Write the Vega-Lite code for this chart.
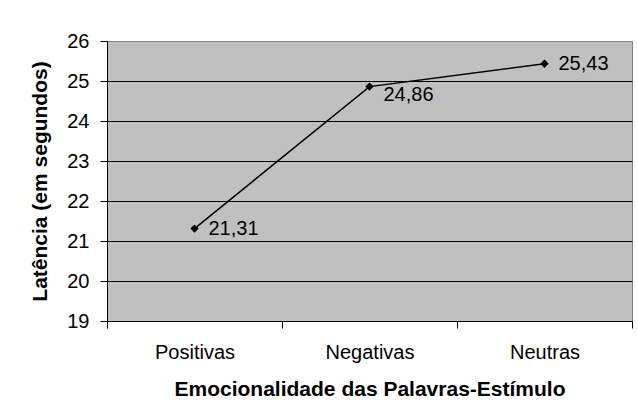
{
  "$schema": "https://vega.github.io/schema/vega-lite/v6.json",
  "width": 525,
  "height": 280,
  "autosize": "none",
  "padding": {"left": 107, "top": 41, "right": 6, "bottom": 95},
  "background": "white",
  "config": {
    "font": "Liberation Sans",
    "view": {"fill": "#C0C0C0", "stroke": "#808080", "strokeWidth": 1}
  },
  "data": {
    "values": [
      {"categoria": "Positivas", "latencia": 21.31, "rotulo": "21,31"},
      {"categoria": "Negativas", "latencia": 24.86, "rotulo": "24,86"},
      {"categoria": "Neutras", "latencia": 25.43, "rotulo": "25,43"}
    ]
  },
  "encoding": {
    "x": {
      "field": "categoria",
      "type": "nominal",
      "sort": null,
      "bandPosition": 0.5,
      "scale": {"type": "band", "paddingInner": 0, "paddingOuter": 0},
      "axis": {
        "title": "Emocionalidade das Palavras-Estímulo",
        "titleFont": "Liberation Sans",
        "titleFontSize": 21,
        "titleFontWeight": "bold",
        "titleColor": "black",
        "titlePadding": 16,
        "labelFont": "Liberation Sans",
        "labelFontSize": 20,
        "labelColor": "black",
        "labelAngle": 0,
        "labelPadding": 14,
        "tickBand": "extent",
        "tickSize": 7,
        "tickColor": "black",
        "domainColor": "black",
        "grid": false
      }
    },
    "y": {
      "field": "latencia",
      "type": "quantitative",
      "scale": {"domain": [19, 26], "nice": false, "zero": false},
      "axis": {
        "title": "Latência (em segundos)",
        "titleFont": "Liberation Sans",
        "titleFontSize": 21,
        "titleFontWeight": "bold",
        "titleColor": "black",
        "titlePadding": 16,
        "values": [19, 20, 21, 22, 23, 24, 25, 26],
        "labelFont": "Liberation Sans",
        "labelFontSize": 20,
        "labelColor": "black",
        "labelPadding": 11,
        "tickSize": 7,
        "tickColor": "black",
        "domainColor": "black",
        "grid": true,
        "gridColor": {"condition": {"test": "datum.value == 26", "value": "#808080"}, "value": "black"},
        "gridOpacity": 1
      }
    }
  },
  "layer": [
    {"mark": {"type": "line", "color": "black", "strokeWidth": 1.5}},
    {"mark": {"type": "point", "shape": "diamond", "filled": true, "color": "black", "size": 70, "opacity": 1}},
    {
      "transform": [{"filter": "datum.categoria != 'Negativas'"}],
      "mark": {"type": "text", "align": "left", "baseline": "middle", "dx": 14, "fontSize": 20, "color": "black", "font": "Liberation Sans"},
      "encoding": {"text": {"field": "rotulo"}}
    },
    {
      "transform": [{"filter": "datum.categoria == 'Negativas'"}],
      "mark": {"type": "text", "align": "left", "baseline": "top", "dx": 14, "dy": -2, "fontSize": 20, "color": "black", "font": "Liberation Sans"},
      "encoding": {"text": {"field": "rotulo"}}
    }
  ]
}
